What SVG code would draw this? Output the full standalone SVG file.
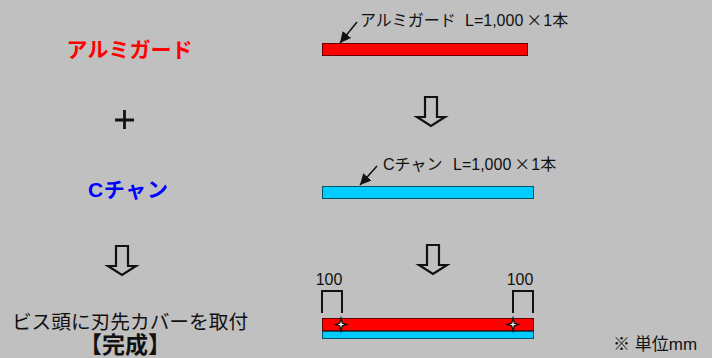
<svg xmlns="http://www.w3.org/2000/svg" width="712" height="358" viewBox="0 0 712 358">
<defs>
<style>
text{font-family:"Liberation Sans","Noto Sans CJK JP",sans-serif;fill:#111}
.lab{font-size:16px}
.big{font-size:21px;font-weight:bold}
.x{font-family:"Noto Sans CJK JP",sans-serif}
.bar{stroke-width:1}
.r{fill:#ff0000;stroke:#600}
.c{fill:#00ccff;stroke:#056}
.ln{fill:none;stroke:#111;stroke-width:2}
.hollow{fill:#c0c0c0;stroke:#111;stroke-width:2.200;stroke-linejoin:miter}
</style>
<marker id="ah" markerUnits="userSpaceOnUse" markerWidth="12" markerHeight="12" refX="11" refY="5.500" orient="auto"><path d="M0 0L11 5.500L0 11z" fill="#111"/></marker>
<path id="da" d="M-6 0H6V20H14L0 29L-14 20H-6z" class="hollow"/>
<g id="st"><path d="M0 -9L1.800 -1.800L8 0L1.800 1.800L0 9L-1.800 1.800L-8 0L-1.800 -1.800z" fill="#111"/><path d="M0 -3.500L.8 -.8L3.500 0L.8 .8L0 3.500L-.8 .8L-3.500 0L-.8 -.8z" fill="#fff"/></g>
</defs>
<rect width="712" height="358" fill="#c0c0c0"/>
<g id="left-aluminum"><text class="big" x="129.500" y="57" text-anchor="middle" style="fill:#f00">アルミガード</text></g>
<g id="left-plus"><path d="M115 120H134M124.500 110V129" stroke="#111" stroke-width="2.800" fill="none"/></g>
<g id="left-channel"><text class="big" x="128" y="197" text-anchor="middle" style="fill:#00f" textLength="80" lengthAdjust="spacing">Cチャン</text></g>
<g id="left-arrow"><use href="#da" x="122" y="246"/></g>
<g id="left-caption"><text x="130" y="329" text-anchor="middle" style="font-size:19.700px">ビス頭に刃先カバーを取付</text><text x="125" y="353" text-anchor="middle" style="font-size:23px;font-weight:bold">【完成】</text></g>
<g id="bar-aluminum"><rect class="bar r" x="322.500" y="43.500" width="205" height="12"/><text class="lab" x="360" y="26">アルミガード</text><text class="lab" x="465" y="26">L=1,000<tspan class="x" dx="3">×</tspan><tspan dx="1">1本</tspan></text></g>
<g id="arrow-1"><use href="#da" x="431" y="97"/></g>
<g id="bar-channel"><rect class="bar c" x="322.500" y="186.500" width="211" height="12"/><text class="lab" x="383" y="170">Cチャン</text><text class="lab" x="453" y="170">L=1,000<tspan class="x" dx="3">×</tspan><tspan dx="1">1本</tspan></text></g>
<g id="arrow-2"><use href="#da" x="433" y="245"/></g>
<g id="bar-complete">
<rect class="bar c" x="322.500" y="331.500" width="211" height="7"/>
<rect class="bar r" x="322.500" y="318.500" width="211" height="12"/>
<use href="#st" x="341" y="324.500"/>
<use href="#st" x="513" y="324.500"/>
<text class="lab" x="329" y="285" text-anchor="middle">100</text>
<text class="lab" x="520" y="285" text-anchor="middle">100</text>
<path class="ln" d="M322 313V291H342V313M513 313V291H533V313"/>
</g>
<g id="unit"><text x="613" y="350" style="font-size:17px">※ 単位mm</text></g>
<g id="connectors">
<path d="M357 22L340 43" stroke="#111" stroke-width="1.500" fill="none" marker-end="url(#ah)"/>
<path d="M377 166L360 185" stroke="#111" stroke-width="1.500" fill="none" marker-end="url(#ah)"/>
</g>
</svg>
